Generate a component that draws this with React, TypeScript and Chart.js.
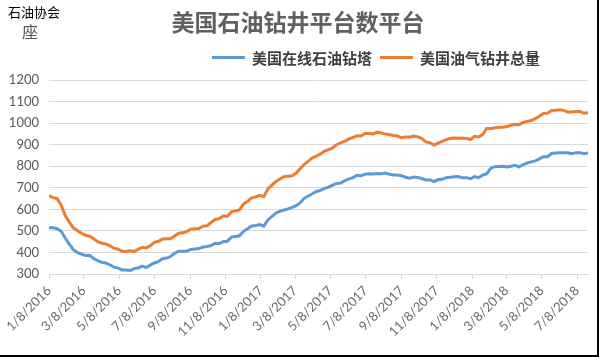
import React, { useEffect, useRef } from "react";
import { Chart, registerables } from "chart.js";

Chart.register(...registerables);

// ---- data ----
const START_DATE = "1/8/2016"; // first weekly observation
const WEEK_DAYS = 7;

const oilRigs = [
  516, 515, 510, 498, 467, 439, 413, 400, 392, 386, 387, 372, 362, 354, 351, 343, 332,
  328, 318, 318, 316, 325, 328, 337, 330, 341, 351, 357, 371, 374, 381, 396, 406, 406,
  407, 414, 416, 418, 425, 428, 432, 443, 441, 450, 452, 471, 474, 477, 498, 510, 523, 525,
  529, 522, 551, 566, 583, 591, 597, 602, 609, 617, 631, 652, 662, 672, 683, 688, 697,
  703, 712, 720, 722, 733, 741, 747, 758, 756, 763, 765, 764, 766, 765, 768, 763, 759,
  759, 756, 749, 744, 750, 748, 743, 736, 737, 729, 738, 739, 747, 749, 751, 752, 747, 747,
  742, 752, 747, 759, 765, 791, 798, 799, 800, 796, 800, 804, 797, 808, 815, 820, 825,
  834, 844, 844, 859, 861, 862, 863, 862, 858, 863, 863, 858, 861,
];

const totalRigs = [
  664, 654, 650, 619, 571, 541, 514, 502, 489, 480, 476, 464, 450, 443, 440, 431, 420,
  415, 406, 404, 408, 404, 414, 424, 421, 431, 447, 452, 462, 463, 464, 476, 489, 491,
  497, 508, 510, 511, 522, 524, 539, 553, 557, 569, 568, 588, 593, 597, 624, 637, 653, 658,
  665, 659, 694, 712, 729, 741, 751, 754, 756, 768, 789, 809, 824, 839, 847, 857, 870,
  877, 885, 901, 908, 916, 927, 933, 941, 940, 952, 952, 950, 958, 954, 949, 946, 943,
  940, 932, 936, 935, 940, 936, 928, 913, 909, 898, 907, 915, 923, 929, 931, 930, 931, 929,
  924, 939, 936, 947, 975, 975, 978, 981, 981, 984, 990, 995, 993, 1003, 1008, 1012, 1021,
  1032, 1045, 1046, 1059, 1060, 1062, 1059, 1052, 1052, 1054, 1054, 1046, 1048,
];

const xTickLabels = [
  "1/8/2016", "3/8/2016", "5/8/2016", "7/8/2016", "9/8/2016", "11/8/2016",
  "1/8/2017", "3/8/2017", "5/8/2017", "7/8/2017", "9/8/2017", "11/8/2017",
  "1/8/2018", "3/8/2018", "5/8/2018", "7/8/2018",
];

const Y_MIN = 300;
const Y_MAX = 1200;
const Y_STEP = 100;

const TITLE = "美国石油钻井平台数平台";
const SOURCE = "石油协会";
const UNIT = "座";
const seriesNames = ["美国在线石油钻塔", "美国油气钻井总量"];
const seriesColors = ["#5B9BD5", "#ED7D31"];

// ---- helpers ----
function dayOf(s: string): number {
  const [m, d, y] = s.split("/").map(Number);
  const [m0, d0, y0] = START_DATE.split("/").map(Number);
  return Math.round((Date.UTC(y, m - 1, d) - Date.UTC(y0, m0 - 1, d0)) / 86400000);
}

const tickDays = xTickLabels.map(dayOf);
const toPoints = (arr: number[]) => arr.map((v, i) => ({ x: i * WEEK_DAYS, y: v }));

const CJK = "'Noto Sans CJK SC', 'Noto Sans', sans-serif";
const NUM = "Lato, 'Noto Sans', sans-serif";

const decorPlugin = {
  id: "decor",
  afterDraw(chart: any) {
    const ctx = chart.ctx as CanvasRenderingContext2D;
    ctx.save();
    // source top-left
    ctx.fillStyle = "#000000";
    ctx.font = `13px ${CJK}`;
    ctx.textAlign = "left";
    ctx.textBaseline = "middle";
    ctx.fillText(SOURCE, 8, 12);
    // unit
    ctx.fillStyle = "#595959";
    ctx.font = `16px ${CJK}`;
    ctx.textAlign = "center";
    ctx.fillText(UNIT, 30, 32);
    // title
    ctx.font = `bold 23px ${CJK}`;
    ctx.fillStyle = "#606060";
    ctx.textAlign = "center";
    ctx.fillText(TITLE, 298, 22);
    // legend
    const legendItems = [
      { x: 212, name: seriesNames[0], color: seriesColors[0] },
      { x: 380, name: seriesNames[1], color: seriesColors[1] },
    ];
    ctx.font = `bold 15px ${CJK}`;
    ctx.textAlign = "left";
    legendItems.forEach((it) => {
      ctx.strokeStyle = it.color;
      ctx.lineWidth = 3;
      ctx.beginPath();
      ctx.moveTo(it.x, 57.5);
      ctx.lineTo(it.x + 33, 57.5);
      ctx.stroke();
      ctx.fillStyle = "#404040";
      ctx.fillText(it.name, it.x + 40, 58);
    });
    // frame lines (right and bottom)
    ctx.fillStyle = "#000000";
    ctx.fillRect(597, 0, 2, 357);
    ctx.fillRect(0, 355, 599, 2);
    ctx.restore();
  },
};

export default function App() {
  const canvasRef = useRef<HTMLCanvasElement | null>(null);

  useEffect(() => {
    const canvas = canvasRef.current;
    if (!canvas) return;
    const chart = new Chart(canvas, {
      type: "line",
      data: {
        datasets: [
          {
            label: seriesNames[0],
            data: toPoints(oilRigs),
            borderColor: seriesColors[0],
            backgroundColor: seriesColors[0],
            borderWidth: 3,
            pointRadius: 0,
            tension: 0,
          },
          {
            label: seriesNames[1],
            data: toPoints(totalRigs),
            borderColor: seriesColors[1],
            backgroundColor: seriesColors[1],
            borderWidth: 3,
            pointRadius: 0,
            tension: 0,
          },
        ],
      },
      options: {
        responsive: false,
        animation: false,
        devicePixelRatio: 1,
        layout: { padding: { left: 0, right: 11, top: 80, bottom: 0 } },
        plugins: {
          legend: { display: false },
          title: { display: false },
          tooltip: { enabled: false },
        },
        scales: {
          x: {
            type: "linear",
            min: 0,
            max: (oilRigs.length - 1) * WEEK_DAYS,
            afterBuildTicks: (scale: any) => {
              scale.ticks = tickDays.map((v) => ({ value: v }));
            },
            afterFit: (scale: any) => {
              scale.height = 83;
              scale.paddingLeft = 0;
              scale.paddingRight = 0;
            },
            ticks: {
              autoSkip: false,
              minRotation: 45,
              maxRotation: 45,
              padding: 4,
              color: "#6a6a6a",
              font: { family: NUM, size: 13 },
              callback: (value: any) => {
                const idx = tickDays.indexOf(Number(value));
                return idx >= 0 ? xTickLabels[idx] : "";
              },
            },
            grid: {
              drawOnChartArea: false,
              drawTicks: true,
              tickLength: 5,
              color: "#D9D9D9",
            },
            border: { display: true, color: "#D9D9D9", width: 1 },
          },
          y: {
            min: Y_MIN,
            max: Y_MAX,
            afterFit: (scale: any) => {
              scale.width = 49;
            },
            ticks: {
              stepSize: Y_STEP,
              padding: 10,
              color: "#595959",
              font: { family: NUM, size: 13 },
              callback: (value: any) => String(value),
            },
            grid: { color: "#D9D9D9", drawTicks: false, lineWidth: 1 },
            border: { display: false },
          },
        },
      },
      plugins: [decorPlugin],
    });
    return () => chart.destroy();
  }, []);

  return (
    <div style={{ position: "absolute", left: 0, top: 0, width: 599, height: 357, background: "#ffffff" }}>
      <canvas ref={canvasRef} width={599} height={357} />
    </div>
  );
}
